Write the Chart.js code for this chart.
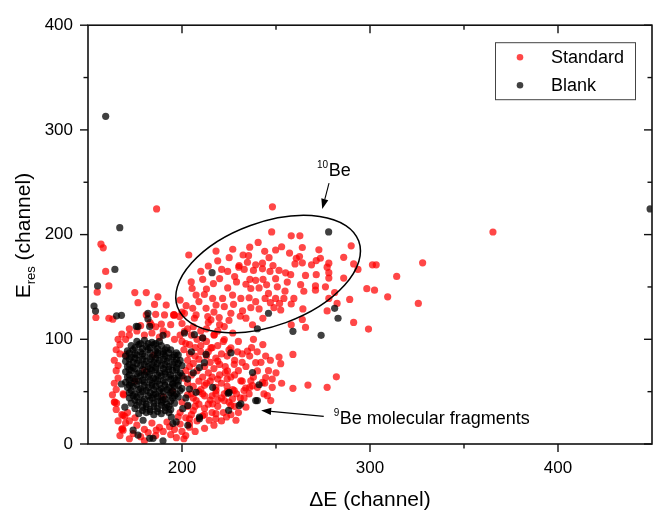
<!DOCTYPE html>
<html><head><meta charset="utf-8">
<script src="https://cdn.jsdelivr.net/npm/chart.js@4/dist/chart.umd.min.js"></script>
<style>html,body{margin:0;padding:0;background:#fff;}canvas{display:block;}</style>
</head><body>
<canvas id="c" width="656" height="514"></canvas>
<script>
// ---- axes / ticks ----
const xTickValues = [200, 300, 400];
const xMinorTicks = [250, 350];
const yTickValues = [0, 100, 200, 300, 400];
const yMinorTicks = [50, 150, 250, 350];
const seriesNames = ['Standard', 'Blank'];

// ---- Standard (red) points ----
const standardBe10 = [
[248.1,226.5],[247.7,202.6],[240.5,192.5],[218.1,184.3],[249.8,185.3],[203.6,180.5],[225.1,178],[232.5,180.5],[235.4,179.9],[246.3,178],
[230.4,170.5],[234.8,173.6],[239.2,171.1],[242.8,172.7],[248.4,170.5],[221.1,166.7],[224.3,164.8],[230.2,168.9],[233.1,166.7],[238,165.8],
[242.8,167.3],[246.8,164.8],[236.1,157.3],[239.2,156.3],[243.1,157.3],[249.8,157.9],[204.9,154.8],[211,157.3],[216.7,153.2],[224.3,149.1],
[229,154.8],[234,152.6],[236.6,148.5],[241,149.1],[246,143.8],[250.7,150.1],[205.4,148.5],[207.5,142.2],[211.9,142.8],[216.3,139],
[221.6,139],[226.9,142.2],[231.3,139],[235.7,139.7],[239.2,135.9],[244.2,139],[249.8,139],[199,137.5],[202.2,132.1],[205.7,129.6],
[212.8,129.6],[218.1,132.7],[222.5,131.2],[227.4,133.4],[232.2,127.1],[236.6,130.2],[241,129],[248.9,130.2],[195.5,123.3],[198.7,121.7],
[207.5,123.3],[213.7,121.7],[215.4,118.6],[219.8,120.8],[226,124.9],[237.5,113.9],[234,120.2],
[214,170],[219,175],[227,186],[210,165],[236,188],[244,184],[228,160],[220,158],[213,148],[245,152],[200,126],[209,136],[217,126],
[225,118],[231,122],[243,120],[247,135],
[365.4,202.5],[258.1,198.8],[262.7,198.8],[290,189.3],[253,188.4],[264,187.7],[272.8,185.5],[257.2,182.4],[262.5,179],[260.1,172],
[264,173],[268.9,171.1],[271.4,175.2],[273.6,177.4],[286,178.3],[291.3,172],[293.6,166.7],[301.3,171.1],[303.3,171.1],[328,173],
[314.2,160.1],[277.2,168.9],[265.7,161],[271.4,161.7],[278.1,158.5],[286,158.5],[255.1,163.5],[256,154.7],[263.1,152.2],[271,151],
[271,146.9],[298.3,148.4],[302.4,146.9],[309.4,140.6],[325.7,134.3],[289.2,138.1],[278.1,139],[281.2,144.7],[282.5,134.3],[277.2,127.1],
[254.2,139],[252.5,128],[258.1,133.7],[264,118.9],[265.7,111.3],[258.1,113.8],[291.3,116.1],[299.2,109.8],
[260.8,177.4],[278.1,172.7],[251.6,165.8],[257.8,161.7],[278.1,163.6],[276.3,150.1],[254.8,146],[259.5,139],[264.8,145.9],[264.3,129],[251.9,134.3]
];
const standardTail = [
[251.6,83],[252.5,76.7],[259,85.6],[282.1,64.2],[267,56.3],[277.2,54.1],[259,53.2],
[248,54.1],[243.6,47.8],[223.7,25.8],[228.7,22.7],[234,35.2],[235.7,47.8],[226.9,43.1],[218.1,29],[214.5,22.7],[204,19.5],[193.4,16.4],
[186.3,13.2],[207.5,41.5],[216.3,38.4],[222.5,41.5],[211,47.8],[218.1,51],[227.8,51],[233.9,53.5],[237.5,55.7],[242.8,58.8],
[201.3,107.5],[211,101.2],[222.5,99.7],[229.5,88],[234.8,88.7],[239.2,77.7],[244.5,84],[236.6,60.4],[240.1,54.1],[245.4,46.2],
[247.2,41.5],[231.3,60.4],[224.2,69.8],[227.8,76.1],[219,79.2],[215.4,91.8],[206.6,120.1],[201.3,124.8],[196,123.3],[190.7,123.3],
[222.5,112.2],[217.2,104.4],[226,91.8],[240.1,69.8],[244.5,63.5],[233,51],[222.5,47.8],[226,36.8]
];
const standardLeft = [
[186.5,224.5],[156.9,190.9],[158.1,187.4],[159.4,164.8],[161.1,151],[154.9,145],[154.2,120.8],[161.1,120.1],[163.2,119.2],
[174.9,144.6],[181,144.6],[187.2,140.6],[185.4,133.3],[191.6,132.7],[176.6,135],[181,123.3],[186,123.9],[195.7,123.3],[183.7,113.9],[189,114.4],
[164.3,39.9],[168.7,27.4],[168.3,14.8],[168.7,47.8],[165.2,39],[169.6,26.4],[168.7,13.2],[170.1,85.6]
];
const standardHalo = [
[164,40],[165,52],[166,63],[166,75],[167,86],[168,28],[168,14],[169,47],[167,95],[168,105],[170,100],[165,33],
[172,104],[176,108],[180,104],[184,106],[188,102],[192,105],[196,100],[199,104],[203,110],[178,113],[186,112],[194,114],[200,98],[204,95],
[201,90],[204,86],[207,92],[210,88],[213,84],[203,80],[206,77],[209,81],[212,74],[215,78],[218,82],[202,70],[205,66],[208,70],[211,64],
[214,68],[217,72],[220,66],[203,58],[206,55],[209,60],[212,56],[215,60],[218,54],[221,58],[224,62],[203,47],[206,44],[209,50],[212,46],
[215,42],[218,48],[221,44],[200,40],[203,36],[206,32],[209,38],[212,34],[199,30],[202,25],[205,28],[208,22],[211,27],[216,30],[219,36],
[222,30],[225,40],[227,52],[226,64],[223,74],[221,86],[216,92],[213,98],[208,100],[210,108],[217,104],[222,98],[225,90],[228,80],[230,70],
[232,60],[229,48],[233,44],[236,54],[238,64],[234,74],[232,86],[237,92],[242,78],[246,70],[244,58],[248,62],
[172,22],[176,18],[180,14],[184,20],[188,16],[192,21],[196,14],[199,19],[174,10],[178,7],[182,11],[186,8],[190,12],[194,9],[200,12],[204,16],
[171,30],[175,25],[170,20],[175,60],[185,85],[195,50],[190,45],[180,70],
[200,115],[206,112],[213,110],[219,108],[190,108],[183,116],[172,110],[166,100],[165,90],[164,80],[165,70],[164,58],[163,47],[166,22],
[167,8],[172,5],[180,3],[197,6],[202,8],[207,12],[212,15],[217,18],[221,22],[226,28],[230,30],[231,44],[224,55],[228,66],[232,78],
[236,84],[240,88],[243,95],[247,80],[250,68],[253,58],[238,100],[230,98],[227,106],[220,114],[214,116],[205,104],[202,96],[207,84],
[204,74],[210,94],[219,94],[214,88],[220,76],[224,84],[216,64],[223,68],[213,58],[219,62],[210,52],[216,46],[224,50],[205,48],[201,63],
[214,38],[219,42],[228,36],[207,36],[212,28],[218,24],[204,24],[198,26],[201,5]
];

// ---- Blank (black) points ----
const blankCore = [
[176,98],[180,99],[184,97],[188,98],
[173,94],[177,95],[181,93],[185,95],[189,94],[192,92],
[171,89],[174,90],[178,88],[182,90],[186,89],[190,88],[194,90],[197,87],
[170,84],[173,83],[176,85],[180,84],[184,83],[187,85],[191,84],[195,83],[198,85],
[170,79],[174,78],[177,80],[181,79],[185,78],[188,80],[192,79],[196,78],[199,80],
[171,74],[174,73],[178,75],[182,74],[186,73],[189,75],[193,74],[197,73],[200,75],
[170,69],[173,70],[177,68],[181,69],[184,70],[188,68],[191,69],[195,70],[199,68],
[171,64],[174,63],[178,65],[182,64],[185,63],[189,65],[193,64],[196,63],[200,65],
[170,59],[173,58],[177,60],[180,59],[184,58],[187,60],[191,59],[195,58],[198,60],
[171,54],[174,55],[178,53],[182,54],[186,55],[189,53],[193,54],[196,55],[200,53],
[172,49],[175,48],[179,50],[183,49],[186,48],[190,50],[194,49],[197,48],
[172,44],[176,45],[180,43],[184,44],[187,45],[191,43],[195,44],[198,45],
[173,39],[177,40],[181,38],[185,39],[189,40],[192,38],[196,39],
[175,34],[179,35],[183,33],[187,34],[191,35],[194,33],
[177,29],[181,30],[185,28],[189,29],[193,30],
[178,96],[182,96],[186,96],
[175,92],[179,91],[183,92],[187,91],[191,90],
[172,87],[175,86],[179,86],[183,87],[187,87],[190,86],[193,87],[196,85],
[172,81],[175,82],[179,81],[183,81],[186,82],[190,81],[193,82],[197,81],
[172,76],[176,77],[180,76],[184,76],[187,77],[191,76],[195,76],[198,77],
[172,71],[175,72],[179,71],[183,72],[186,71],[190,72],[193,71],[197,71],
[172,66],[176,67],[180,66],[183,67],[187,66],[191,67],[194,66],[198,66],
[172,61],[175,62],[179,61],[183,61],[186,62],[190,61],[194,62],[197,61],
[172,56],[176,57],[180,56],[184,56],[188,57],[191,56],[195,57],[198,56],
[173,51],[177,52],[181,51],[185,52],[188,51],[192,52],[195,51],[199,51],
[174,46],[178,47],[182,46],[185,47],[189,46],[193,47],[196,46],
[175,42],[179,41],[183,42],[187,41],[190,42],[194,41],
[176,37],[181,36],[185,36],[189,37],[193,36],
[179,32],[183,31],[187,31],[191,32]
];
const blankScatter = [
[159.4,313],[166.9,206.6],[164.3,166.7],[155.1,151],[153.2,131.8],[154,127],[165.2,122.4],[167.8,122.9],[449,224.5],
[278,202.6],[216,163.6],[246,124.9],[240.1,110.1],[259,107.6],[274,103.8],[281.2,129.6],[283,120.1],
[241,56.6],[239.2,41.5],[230.4,36.8],[224.6,48.4],[224.8,32.1],[209.3,24.2],[196.9,21.1],[189.9,3.1],[182.8,5.4],
[231.3,38.4],[225.1,49.3],[226,87],[237.5,68.2],[240.1,41.5],[201.3,106],[206.6,104.4],[211,101.3],
[181.9,124.8],[181.9,119.5],[176.6,112.2],[175.7,112.3],[182.8,112.3],[189.9,103.8],
[212.8,85.6],[209.3,73],[211.9,77.7],[216.3,54.1],[207.5,49.4],[204,52.5],[203.1,36.8],[200.4,33.7],[209.3,25.8],[194.3,25.8],
[203.1,17.9],[179.3,22.7],[174,13.2],[176.6,8.5],[184.6,5.4],[169.6,35.2],[167.8,57.3],[195.2,19.5],
[205,88],[203,62],[206,68],[202,44]
];

// ---- annotations (data coordinates) ----
const be10Ellipse = {cx: 245.8, cy: 162.3, a: 51.3, b: 27.5, angle: -20};
const be10Arrow = [[278.2, 249.1], [274.6, 224.5]];
const be10Label = {x: 278.0, y: 255.7, sup: '10', text: 'Be'};
const fragArrow = [[275.4, 26.4], [242.1, 32.1]];
const fragLabel = {x: 283.9, y: 18.9, sup: '9', text: 'Be molecular fragments'};

const RED = 'rgba(255,0,0,0.72)';
const BLACK = 'rgba(0,0,0,0.75)';
const FONT = "'Liberation Sans', Arial, sans-serif";
const toXY = arr => arr.map(p => ({x: p[0], y: p[1]}));

function drawArrow(ctx, x0, y0, x1, y1) {
  const ang = Math.atan2(y1 - y0, x1 - x0);
  const hl = 10, hw = 3.6;
  const bx = x1 - hl * Math.cos(ang), by = y1 - hl * Math.sin(ang);
  ctx.beginPath(); ctx.moveTo(x0, y0); ctx.lineTo(bx, by); ctx.stroke();
  ctx.beginPath(); ctx.moveTo(x1, y1);
  ctx.lineTo(bx + hw * Math.sin(ang), by - hw * Math.cos(ang));
  ctx.lineTo(bx - hw * Math.sin(ang), by + hw * Math.cos(ang));
  ctx.closePath(); ctx.fill();
}
function drawSupLabel(ctx, px, py, sup, text) {
  ctx.textAlign = 'left'; ctx.textBaseline = 'alphabetic';
  ctx.font = '10px ' + FONT;
  const w = ctx.measureText(sup).width;
  ctx.fillText(sup, px - w - 0.5, py - 8);
  ctx.font = '18px ' + FONT;
  ctx.fillText(text, px, py);
}

const decor = {
  id: 'decor',
  afterDatasetsDraw(chart) {
    const {ctx, chartArea: ca, scales: {x, y}} = chart;
    ctx.save();
    ctx.strokeStyle = '#000'; ctx.fillStyle = '#000';
    const ppx = Math.abs(x.getPixelForValue(1) - x.getPixelForValue(0));
    ctx.lineWidth = 1.5;
    ctx.beginPath();
    ctx.ellipse(x.getPixelForValue(be10Ellipse.cx), y.getPixelForValue(be10Ellipse.cy),
      be10Ellipse.a * ppx, be10Ellipse.b * ppx, be10Ellipse.angle * Math.PI / 180, 0, Math.PI * 2);
    ctx.stroke();
    ctx.lineWidth = 1.1;
    [be10Arrow, fragArrow].forEach(a => drawArrow(ctx,
      x.getPixelForValue(a[0][0]), y.getPixelForValue(a[0][1]),
      x.getPixelForValue(a[1][0]), y.getPixelForValue(a[1][1])));
    [be10Label, fragLabel].forEach(l => drawSupLabel(ctx, x.getPixelForValue(l.x), y.getPixelForValue(l.y), l.sup, l.text));
    ctx.lineWidth = 1.6; ctx.strokeStyle = '#111';
    ctx.strokeRect(ca.left, ca.top, ca.right - ca.left, ca.bottom - ca.top);
    ctx.lineWidth = 1.4;
    const tick = (x0, y0, x1, y1) => { ctx.beginPath(); ctx.moveTo(x0, y0); ctx.lineTo(x1, y1); ctx.stroke(); };
    xTickValues.concat(xMinorTicks).forEach(v => {
      const L = xTickValues.includes(v) ? 8 : 4.5;
      const p = x.getPixelForValue(v);
      tick(p, ca.bottom, p, ca.bottom + L);
      tick(p, ca.top, p, ca.top + L);
    });
    yTickValues.concat(yMinorTicks).forEach(v => {
      const L = yTickValues.includes(v) ? 8 : 4.5;
      const p = y.getPixelForValue(v);
      tick(ca.left - L, p, ca.left, p);
      tick(ca.right - L, p, ca.right, p);
    });
    const lx = ca.right - 157, ly = ca.top + 17, lw = 140, lh = 57;
    ctx.lineWidth = 1; ctx.strokeStyle = '#444';
    ctx.strokeRect(lx + 0.5, ly + 0.5, lw, lh);
    ctx.font = '18px ' + FONT; ctx.textBaseline = 'middle'; ctx.textAlign = 'left';
    [[seriesNames[0], RED, 15], [seriesNames[1], BLACK, 43]].forEach(([name, col, dy]) => {
      ctx.fillStyle = col;
      ctx.beginPath(); ctx.arc(lx + 25, ly + dy, 3.3, 0, Math.PI * 2); ctx.fill();
      ctx.fillStyle = '#000';
      ctx.fillText(name, lx + 56, ly + dy + 1);
    });
    ctx.save();
    ctx.translate(30, (ca.top + ca.bottom) / 2 + 1);
    ctx.rotate(-Math.PI / 2);
    ctx.textBaseline = 'alphabetic'; ctx.textAlign = 'left'; ctx.fillStyle = '#000';
    const big = '21px ' + FONT, small = '13px ' + FONT;
    ctx.font = big; const wE = ctx.measureText('E').width; const wC = ctx.measureText(' (channel)').width;
    ctx.font = small; const wR = ctx.measureText('res').width;
    let sx = -(wE + wR + wC) / 2;
    ctx.font = big; ctx.fillText('E', sx, 0); sx += wE;
    ctx.font = small; ctx.fillText('res', sx, 5); sx += wR;
    ctx.font = big; ctx.fillText(' (channel)', sx, 0);
    ctx.restore();
    ctx.restore();
  }
};

new Chart(document.getElementById('c'), {
  type: 'scatter',
  data: {
    datasets: [
      {label: seriesNames[0], order: 1, data: toXY([].concat(standardBe10, standardTail, standardLeft, standardHalo)),
       backgroundColor: RED, borderWidth: 0, pointRadius: 3.6},
      {label: seriesNames[1], order: 0, data: toXY([].concat(blankCore, blankScatter)),
       backgroundColor: BLACK, borderWidth: 0, pointRadius: 3.6}
    ]
  },
  options: {
    responsive: false, animation: false, events: [], devicePixelRatio: 1,
    layout: {padding: {left: 0, right: 2, top: 20, bottom: 0}},
    plugins: {legend: {display: false}, tooltip: {enabled: false}},
    scales: {
      x: {
        type: 'linear', min: 150, max: 450,
        afterBuildTicks: s => { s.ticks = xTickValues.map(v => ({value: v})); },
        afterFit: s => { s.height = 70; },
        grid: {display: false, drawTicks: false}, border: {display: false},
        ticks: {font: {family: FONT, size: 17}, color: '#000', padding: 14, maxRotation: 0},
        title: {display: true, text: '\u0394E (channel)', font: {family: FONT, size: 21}, color: '#000', padding: {top: 0, bottom: 1}}
      },
      y: {
        type: 'linear', min: 0, max: 400,
        afterBuildTicks: s => { s.ticks = yTickValues.map(v => ({value: v})); },
        afterFit: s => { s.width = 88; },
        grid: {display: false, drawTicks: false}, border: {display: false},
        ticks: {font: {family: FONT, size: 17}, color: '#000', padding: 15}
      }
    }
  },
  plugins: [decor]
});
</script>
</body></html>
